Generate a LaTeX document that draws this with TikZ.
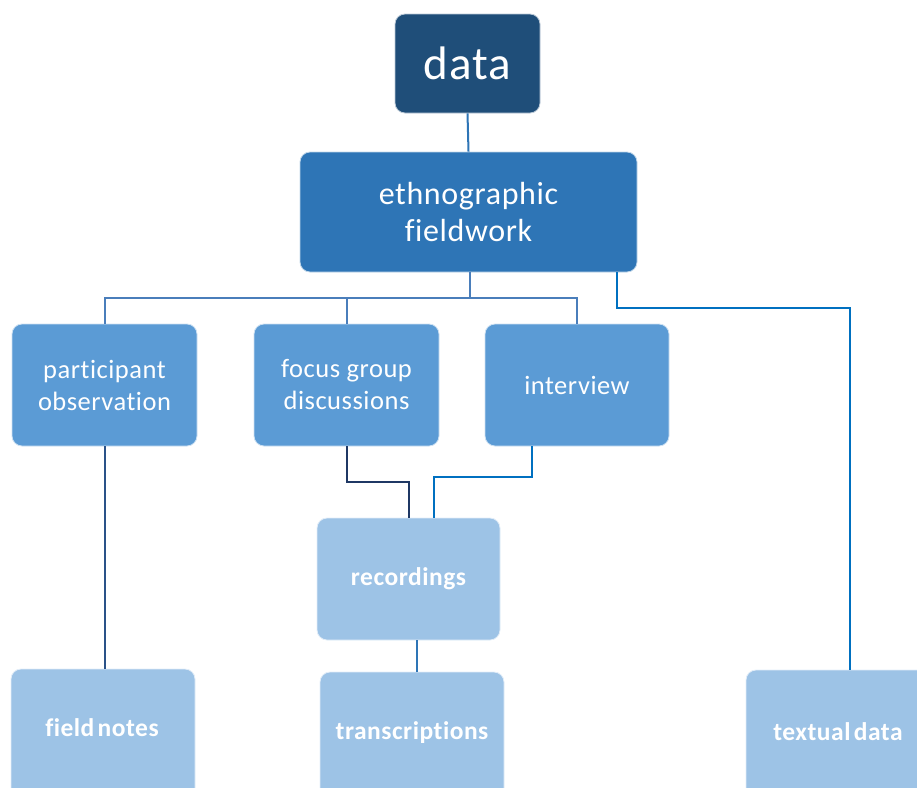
\documentclass[tikz,border=0pt]{standalone}
\usepackage{fontspec}
\setmainfont{Carlito}[Ligatures=NoCommon, LetterSpace=2]
\definecolor{topblue}{HTML}{1F4E79}
\definecolor{midblue}{HTML}{2E75B6}
\definecolor{boxblue}{HTML}{5B9BD5}
\definecolor{leafblue}{HTML}{9DC3E6}
\definecolor{busline}{HTML}{4A7EBB}
\definecolor{navyline}{HTML}{1F3864}
\definecolor{darkline}{HTML}{2A5288}
\definecolor{brightline}{HTML}{0070C0}
\tikzset{
  box/.style={rectangle, rounded corners=10pt, draw=white!70!#1, line width=0.8pt,
    fill=#1, text=white, align=center, inner sep=0pt},
  leaftext/.style={text=white, font=\fontsize{25.5}{31}\selectfont\bfseries, inner sep=0pt},
  link/.style={line width=2pt, draw=#1},
}
\begin{document}
\begin{tikzpicture}[x=1pt, y=-1pt]
\useasboundingbox (0,0) rectangle (917,787);
\clip (0,0) rectangle (917,787);

% upper levels
\node[box=topblue, minimum width=145, minimum height=99,
  font=\fontsize{47}{53}\selectfont] (data) at (467.5,63.5) {data};
\node[box=midblue, minimum width=337, minimum height=120,
  font=\fontsize{32}{37}\selectfont] (ethno) at (468.5,212) {ethnographic\\fieldwork};

% methods
\node[box=boxblue, minimum width=185, minimum height=122,
  font=\fontsize{26.5}{32}\selectfont] (po) at (104.5,385) {participant\\observation};
\node[box=boxblue, minimum width=185, minimum height=122,
  font=\fontsize{26.5}{32}\selectfont] (fg) at (346.5,385) {focus group\\discussions};
\node[box=boxblue, minimum width=184, minimum height=122,
  font=\fontsize{26.5}{32}\selectfont] (iv) at (577,385) {interview};

% intermediate product
\node[box=leafblue, minimum width=183, minimum height=122,
  font=\fontsize{25.5}{31}\selectfont\bfseries] (rec) at (408.5,579) {recordings};

% resulting data (boxes run past the lower edge)
\node[box=leafblue, minimum width=184, minimum height=160] (fn) at (103,749) {};
\node[leaftext] (fnlabel) at (102,728) {field\hspace{-3pt} notes};
\node[box=leafblue, minimum width=184, minimum height=160] (tr) at (412,752) {};
\node[leaftext] (trlabel) at (412,733) {transcriptions};
\node[box=leafblue, minimum width=208, minimum height=160] (td) at (850,750) {};
\node[leaftext] (tdlabel) at (838,732) {textual\hspace{-3pt} data};

% connectors
\coordinate (bus) at (470,298);
\draw[link=midblue] (data.south) -- (ethno.north);
\draw[link=busline] ([xshift=1.5pt]ethno.south) -- ([xshift=1.5pt]ethno.south |- bus);
\draw[link=busline] (po.north) |- (bus) -| (iv.north);
\draw[link=busline] (fg.north) -- (fg.north |- bus);
\draw[link=brightline] ([xshift=148.5pt]ethno.south) -- ++(0,36) -| (td.north);
\draw[link=darkline] (po.south) -- (po.south |- fn.north);
\draw[link=navyline] (fg.south) -- ++(0,36) -| (rec.north);
\draw[link=brightline] ([xshift=-45pt]iv.south) -- ++(0,31) -| ([xshift=25.5pt]rec.north);
\draw[link=midblue] ([xshift=8.5pt]rec.south) -- ([xshift=8.5pt]rec.south |- tr.north);
\end{tikzpicture}
\end{document}
